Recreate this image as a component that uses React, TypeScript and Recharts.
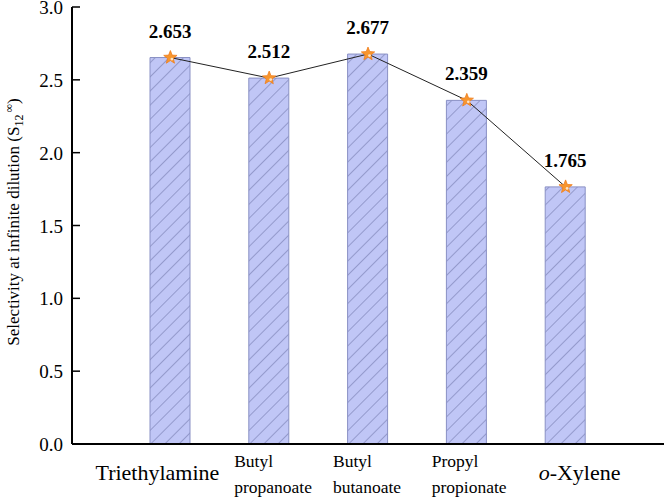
import React from 'react';
import {
  ComposedChart,
  Bar,
  Line,
  XAxis,
  YAxis,
  LabelList,
} from 'recharts';

const solvents = ['Triethylamine', 'Butyl propanoate', 'Butyl butanoate', 'Propyl propionate', 'o-Xylene'];
const selectivity = [2.653, 2.512, 2.677, 2.359, 1.765];
const yTicks = [0, 0.5, 1.0, 1.5, 2.0, 2.5, 3.0];

const data = solvents.map((name, i) => ({ name, s: selectivity[i] }));

const FONT = '"Liberation Serif", "Times New Roman", serif';
const serif = { fontFamily: FONT };

// star marker on the line
const Star = (props: any) => {
  const { cx, cy } = props;
  if (cx == null || cy == null) return null;
  const pts: string[] = [];
  for (let i = 0; i < 10; i++) {
    const r = i % 2 === 0 ? 7 : 3;
    const a = -Math.PI / 2 + (i * Math.PI) / 5;
    pts.push(`${cx + r * Math.cos(a)},${cy + r * Math.sin(a)}`);
  }
  return (
    <g>
      <polygon points={pts.join(' ')} fill="#f7962f" stroke="#f07e1c" strokeWidth={0.8} />
      <circle cx={cx + 1.5} cy={cy + 1.5} r={1.4} fill="#fde3c4" />
    </g>
  );
};

const YTick = (props: any) => {
  const { x, y, payload } = props;
  return (
    <g>
      <line x1={x + 9} x2={x + 17} y1={y} y2={y} stroke="#000" strokeWidth={1.5} />
      <text x={x} y={y} dy={7} textAnchor="end" style={serif} fontSize={19} fill="#000">
        {Number(payload.value).toFixed(1)}
      </text>
    </g>
  );
};

const XTick = (props: any) => {
  const { x, y, payload } = props;
  const label: string = payload.value;
  if (label.startsWith('o-')) {
    return (
      <text x={x + 14} y={y + 36} textAnchor="middle" style={serif} fontSize={22} fill="#000">
        <tspan fontStyle="italic">o</tspan>
        <tspan>{label.slice(1)}</tspan>
      </text>
    );
  }
  const parts = label.split(' ');
  if (parts.length === 1) {
    return (
      <text x={x - 13} y={y + 36} textAnchor="middle" style={serif} fontSize={22} fill="#000">
        {label}
      </text>
    );
  }
  return (
    <text x={x - 35} y={y + 23} textAnchor="start" style={serif} fontSize={17.5} fill="#000">
      <tspan x={x - 35}>{parts[0]}</tspan>
      <tspan x={x - 35} dy={26}>{parts.slice(1).join(' ')}</tspan>
    </text>
  );
};

const YLabel = () => (
  <text
    transform="translate(19, 222) rotate(-90)"
    textAnchor="middle"
    style={serif}
    fontSize={17}
    fill="#000"
  >
    Selectivity at infinite dilution (S
    <tspan fontSize={12} dy={4}>12</tspan>
    <tspan fontSize={12} dy={-10} dx={2}>∞</tspan>
    <tspan dy={6}>)</tspan>
  </text>
);

export default function App() {
  return (
    <div style={{ position: 'absolute', left: 0, top: 0, width: 666, height: 500, background: '#fff' }}>
      <ComposedChart
        width={666}
        height={500}
        data={data}
        margin={{ top: 7, right: 2, left: 0, bottom: 0 }}
      >
        <defs>
          <pattern id="hatch" width="10" height="10" patternUnits="userSpaceOnUse" patternTransform="rotate(45)">
            <rect width="10" height="10" fill="#c0c6f6" />
            <line x1="0" y1="0" x2="0" y2="10" stroke="#6f76aa" strokeWidth={1.1} />
          </pattern>
        </defs>
        <XAxis
          dataKey="name"
          interval={0}
          height={56}
          padding={{ left: 49, right: 49 }}
          tickLine={false}
          tickSize={0}
          tickMargin={0}
          tick={<XTick />}
          axisLine={{ stroke: '#000', strokeWidth: 2 }}
        />
        <XAxis
          xAxisId="top"
          dataKey="name"
          orientation="top"
          height={0}
          tick={false}
          tickLine={false}
          axisLine={{ stroke: '#000', strokeWidth: 1.5 }}
        />
        <YAxis
          width={72}
          domain={[0, 3]}
          ticks={yTicks}
          interval={0}
          tickLine={false}
          tickSize={0}
          tickMargin={9}
          tick={<YTick />}
          axisLine={{ stroke: '#000', strokeWidth: 2 }}
          label={<YLabel />}
        />
        <YAxis
          yAxisId="right"
          orientation="right"
          width={0}
          domain={[0, 3]}
          tick={false}
          tickLine={false}
          axisLine={{ stroke: '#000', strokeWidth: 2.5 }}
        />
        <Bar dataKey="s" barSize={40} fill="url(#hatch)" stroke="#8990c4" strokeWidth={1} isAnimationActive={false}>
          <LabelList
            dataKey="s"
            position="top"
            offset={20}
            style={serif}
            fontSize={19}
            fontWeight="bold"
            fill="#000"
          />
        </Bar>
        <Line
          dataKey="s"
          stroke="#222"
          strokeWidth={1}
          dot={<Star />}
          activeDot={false}
          isAnimationActive={false}
        />
      </ComposedChart>
    </div>
  );
}
